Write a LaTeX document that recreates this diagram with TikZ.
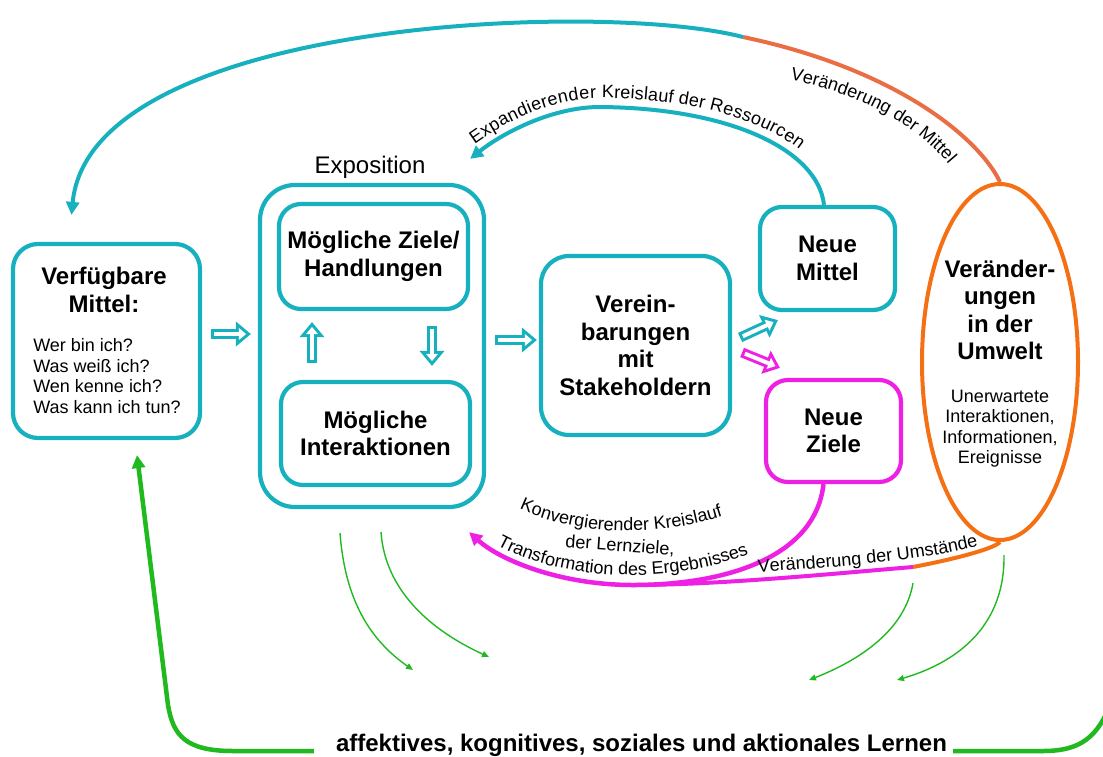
\documentclass[tikz,border=0pt]{standalone}
\usepackage{fontspec}
\setmainfont{Liberation Sans}
\usetikzlibrary{arrows.meta,positioning,calc,shapes.geometric,decorations.text}
\definecolor{tealc}{RGB}{22,176,190}
\definecolor{magc}{RGB}{238,32,228}
\definecolor{orac}{RGB}{245,112,20}
\definecolor{coral}{RGB}{234,110,68}
\definecolor{grnc}{RGB}{32,186,32}
\newcommand{\bigfont}{\bfseries\fontsize{24}{27.5}\selectfont}
\newcommand{\smfont}{\fontsize{18}{20.5}\selectfont}

\begin{document}
\begin{tikzpicture}[x=1pt,y=-1pt,every node/.style={font=\smfont},
  box/.style={draw=tealc,line width=4.2pt,rounded corners=22pt,align=center,font=\bigfont,inner sep=0pt},
  hollow/.style={draw=#1,line width=10pt,-{Triangle[length=15pt,width=24pt]},
    postaction={draw=white,line width=4pt,shorten <=3pt,shorten >=4.8pt,-{Triangle[length=7.2pt,width=11.5pt]}}},
  loopline/.style={line width=4pt},
  headtip/.style={-{Triangle[length=13pt,width=13pt]}},
  thingreen/.style={draw=grnc,line width=1.4pt,-{Triangle[length=7pt,width=6pt]}}]
\useasboundingbox (0,0) rectangle (1103,756);
\clip (0,0) rectangle (1103,756);

% boxes
\node[box,minimum width=187pt,minimum height=194pt,rounded corners=25pt] (vm) at (106.5,341) {};
\node[font=\bigfont,align=center] (vmt) at (104,290) {Verfügbare\\Mittel:};
\node[align=left] (vmq) at (107,376) {Wer bin ich?\\Was weiß ich?\\Wen kenne ich?\\Was kann ich tun?};
\node[box,minimum width=224pt,minimum height=322pt,rounded corners=35pt] (expo) at (372,346) {};
\node[font=\fontsize{24}{27}\selectfont] (expot) at (370,167) {Exposition};
\node[box,minimum width=189pt,minimum height=105pt] (zh) at (373.5,256.5) {Mögliche Ziele/\\Handlungen};
\node[box,minimum width=189pt,minimum height=103pt] (ia) at (375.5,433.5) {Mögliche\\Interaktionen};
\node[box,minimum width=189pt,minimum height=179pt,rounded corners=28pt] (ver) at (635.5,345.5) {Verein-\\barungen\\mit\\Stakeholdern};
\node[box,minimum width=135pt,minimum height=103pt] (nm) at (827.5,258.5) {Neue\\Mittel};
\node[box,draw=magc,minimum width=135pt,minimum height=102pt] (nz) at (833.5,431) {Neue\\Ziele};
\node[ellipse,draw=orac,line width=4pt,minimum width=156pt,minimum height=356pt,inner sep=0pt] (umw) at (1000,362) {};
\node[font=\bigfont,align=center] (umwt) at (1000,310) {Veränder-\\ungen\\in der\\Umwelt};
\node[align=center] (umws) at (1000,428.5) {Unerwartete\\Interaktionen,\\Informationen,\\Ereignisse};
\node[font=\bigfont,anchor=base,inner sep=0pt] (lern) at (641.5,751) {affektives, kognitives, soziales und aktionales Lernen};

% hollow arrows
\draw[hollow=tealc] ([xshift=9pt,yshift=7pt]vm.east) -- ([xshift=-7pt,yshift=12pt]expo.west);
\draw[hollow=tealc] ([xshift=9pt,yshift=6pt]expo.east) -- ([xshift=-2pt,yshift=5.5pt]ver.west);
\draw[hollow=tealc] ([xshift=-63.5pt,yshift=17pt]ia.north) -- ([xshift=-61.5pt,yshift=-11pt]zh.south);
\draw[hollow=tealc] ([xshift=58.5pt,yshift=-15pt]zh.south) -- ([xshift=56.5pt,yshift=14pt]ia.north);
\draw[hollow=tealc] ([xshift=8pt,yshift=8pt]ver.east) -- ([xshift=20pt,yshift=-8pt]nm.south west);
\draw[hollow=magc] ([xshift=10pt,yshift=-7pt]ver.east) -- ([xshift=16pt,yshift=10pt]nz.north west);

% big loop over the top
\coordinate (sw1) at (743,37);
\draw[loopline,draw=coral] (sw1) .. controls (900,70) and (980,140) .. (umw.north);
\path[decorate,decoration={text along path,text={|\smfont|Veränderung der Mittel},text align=center}] (788,79) .. controls (855,93) and (912,120) .. (950,166);
\draw[loopline,draw=tealc,headtip] (sw1) .. controls (600,0) and (90,20) .. ([xshift=-35pt,yshift=27pt]vm.north);

% expanding loop
\draw[loopline,draw=tealc,{Triangle[length=13pt,width=13pt]}-,postaction={decorate},decoration={text along path,text={|\smfont\color{black}|Expandierender Kreislauf der Ressourcen},text align={left,left indent=12pt},raise=9pt}] ([xshift=-16pt,yshift=24pt]expo.north east) .. controls (500,135) and (550,107) .. (600,107) .. controls (730,108) and (818,150) .. ([xshift=-3.5pt]nm.north);

% converging loop
\coordinate (mj) at (633,585);
\coordinate (sw2) at (913,567);
\draw[line width=4.5pt,draw=magc,headtip] ([xshift=-10pt]nz.south) .. controls (815,560) and (720,585) .. (mj) .. controls (560,585) and (500,560) .. ([xshift=-17pt,yshift=-23pt]expo.south east);
\draw[loopline,draw=orac] (umw.south) .. controls (995,548) and (960,558) .. (sw2);
\draw[loopline,draw=magc] (sw2) .. controls (840,573) and (720,585) .. (mj);
\path[decorate,decoration={text along path,text={|\smfont|Konvergierender Kreislauf},text align=center}] (508,503) .. controls (570,537) and (660,540) .. (735,512);
\node[rotate=-4] (lz) at (620,546) {der Lernziele,};
\path[decorate,decoration={text along path,text={|\smfont|Transformation des Ergebnisses},text align=center}] (488,540) .. controls (560,585) and (680,585) .. (758,550);
\path[decorate,decoration={text along path,text={|\smfont|Veränderung der Umstände},text align=center}] (748,573) .. controls (830,568) and (935,560) .. (988,543);

% learning
\foreach \n/\s/\ca/\cb/\e in {1/{340,533}/{345,600}/{370,640}/{413,670},2/{381,532}/{385,590}/{430,630}/{489,657},3/{913,583}/{905,630}/{860,660}/{809,680},4/{1004,555}/{1005,620}/{965,660}/{897,680}}
{\coordinate (gs\n) at (\s); \coordinate (ge\n) at (\e);
 \draw[thingreen] (gs\n) .. controls (\ca) and (\cb) .. (ge\n);}
\draw[line width=4.5pt,draw=grnc,headtip] ([xshift=-22pt]lern.base west) -- (233,751) .. controls (185,751) and (173,735) .. (168,705) -- ([xshift=30.5pt,yshift=-15pt]vm.south);
\draw[line width=4.5pt,draw=grnc] ([xshift=6pt]lern.base east) -- (1043,751) .. controls (1080,751) and (1098,738) .. (1112,700);
\end{tikzpicture}
\end{document}
